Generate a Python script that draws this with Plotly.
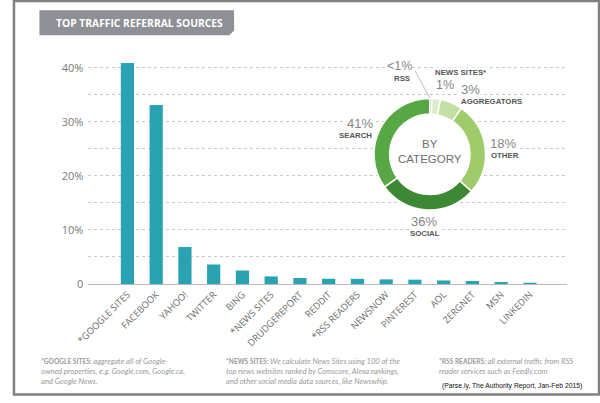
import plotly.graph_objects as go

# ---------------- data ----------------
sources = ["*GOOGLE SITES", "FACEBOOK", "YAHOO!", "TWITTER", "BING", "*NEWS SITES",
           "DRUDGEREPORT", "REDDIT", "*RSS READERS", "NEWSNOW", "PINTEREST", "AOL",
           "ZERGNET", "MSN", "LINKEDIN"]
share_pct = [40.9, 33.1, 6.85, 3.6, 2.5, 1.4, 1.1, 0.97, 0.95, 0.85, 0.8, 0.65, 0.55, 0.37, 0.25]

y_tick_vals = [0, 5, 10, 15, 20, 25, 30, 35, 40, 45]
y_tick_text = ["0", "", "10%", "", "20%", "", "30%", "", "40%", ""]

donut_categories = ["RSS", "NEWS SITES*", "AGGREGATORS", "OTHER", "SOCIAL", "SEARCH"]
donut_pct_labels = ["<1%", "1%", "3%", "18%", "36%", "41%"]
# arc shares as drawn in the reference graphic
donut_arc_share = [0.6, 2.5, 6.5, 27.0, 28.5, 35.0]
donut_colors = ["#2d2f2b", "#dcecd0", "#c2e0a3", "#9fcb6b", "#3d8834", "#57a844"]

W, H = 600, 403


def px(x):
    return x / W


def py(y):
    return 1 - y / H


fig = go.Figure()

fig.add_trace(go.Bar(
    x=sources, y=share_pct, marker=dict(color="#29a2b1", line=dict(width=0)),
    hoverinfo="skip", showlegend=False,
))

# donut
cx, cy, R = 426, 157, 57
fig.add_trace(go.Pie(
    values=donut_arc_share, labels=donut_categories, sort=False,
    direction="clockwise", rotation=0, hole=0.72,
    marker=dict(colors=donut_colors, line=dict(color="white", width=1.5)),
    textinfo="none", hoverinfo="skip", showlegend=False,
    domain=dict(x=[px(cx - R), px(cx + R)], y=[py(cy + R), py(cy - R)]),
))

fig.update_layout(
    width=W, height=H, margin=dict(l=0, r=0, t=0, b=0),
    paper_bgcolor="white", plot_bgcolor="white",
    bargap=0.54, font=dict(family="Open Sans", color="#777"),
    xaxis=dict(
        domain=[px(77), px(566)], type="category", range=[-1.36, 15.28],
        showgrid=False, showline=True, linecolor="#b8b8b8", linewidth=1.5,
        tickangle=-45, tickfont=dict(size=9.4, color="#6a6a6a", family="Open Sans"),
        ticks="", fixedrange=True,
    ),
    yaxis=dict(
        domain=[py(289), py(41.5)], range=[0, 45],
        tickvals=y_tick_vals, ticktext=y_tick_text,
        showgrid=True, gridcolor="#c9c9c9", gridwidth=1, griddash="dot",
        zeroline=False, showline=False, ticks="", ticklabelstandoff=4,
        tickfont=dict(size=11, color="#7a7a7a", family="Open Sans"),
        fixedrange=True,
    ),
)

shapes = []
# outer frame
shapes.append(dict(type="rect", xref="paper", yref="paper", x0=px(1), x1=px(599), y0=py(401.5), y1=py(1),
                   line=dict(color="#808080", width=2.5), layer="above"))
# title box with chipped corner
path = "M {} {} L {} {} L {} {} L {} {} L {} {} Z".format(
    px(27), py(10.5), px(226), py(10.5), px(226), py(31), px(221), py(36), px(27), py(36))
shapes.append(dict(type="path", xref="paper", yref="paper", path=path,
                   fillcolor="#8e9095", line=dict(width=0)))
# white hole for donut
r_in = 40
shapes.append(dict(type="circle", xref="paper", yref="paper",
                   x0=px(cx - r_in), x1=px(cx + r_in), y0=py(cy + r_in), y1=py(cy - r_in),
                   fillcolor="white", line=dict(width=0), layer="above"))
# RSS leader line
shapes.append(dict(type="line", xref="paper", yref="paper",
                   x0=px(411), y0=py(72), x1=px(426), y1=py(100),
                   line=dict(color="#bdbdbd", width=1)))
fig.update_layout(shapes=shapes)

ann = []


def add(text, x, y, size, color, xanchor="center", yanchor="middle", family="Open Sans", bg=None, align="center"):
    d = dict(text=text, x=px(x), y=py(y), xref="paper", yref="paper", showarrow=False,
             xanchor=xanchor, yanchor=yanchor, align=align,
             font=dict(size=size, color=color, family=family))
    if bg:
        d["bgcolor"] = bg
        d["borderpad"] = 0
    ann.append(d)


add("<b>TOP TRAFFIC REFERRAL SOURCES</b>", 42, 23.5, 10.3, "white", xanchor="left")

# donut center
add("BY", cx, 146.5, 11.5, "#6d6e71", family="Liberation Sans")
add("CATEGORY", cx, 162, 11.5, "#6d6e71", family="Liberation Sans")

pct_col = "#858585"
name_col = "#555555"
LF = "Liberation Sans"


def pct_label(i, x, y, xanchor="center", size=13):
    add(donut_pct_labels[i], x, y, size, pct_col, xanchor=xanchor, family=LF, bg="white")


def name_label(i, x, y, xanchor="center"):
    add("<b>" + donut_categories[i] + "</b>", x, y, 7.8, name_col, xanchor=xanchor, family=LF, bg="white")


# RSS
pct_label(0, 395, 67.5, size=12.5)
name_label(0, 397.5, 79.5)
# News sites
name_label(1, 430, 74, xanchor="left")
pct_label(1, 431, 86.5, xanchor="left", size=12.5)
# Aggregators
pct_label(2, 457, 91.5, xanchor="left")
name_label(2, 457, 103.5, xanchor="left")
# Other
pct_label(3, 487, 146, xanchor="left")
name_label(3, 488, 158, xanchor="left")
# Social
pct_label(4, 420, 225.5)
name_label(4, 421, 237.5)
# Search
pct_label(5, 369, 126, xanchor="right")
name_label(5, 368, 138, xanchor="right")

# footnotes
fn_bold = "<span style='font-size:6.6px'><b>{}</b></span>"
fn_col = "#9a9a9a"
add(fn_bold.format("*GOOGLE SITES:") + "<i> aggregate all of Google-<br>owned properties, e.g. Google.com, Google.ca,<br>and Google News.</i>",
    27, 360, 7.6, fn_col, xanchor="left", yanchor="top", family="Lato", align="left")
add(fn_bold.format("*NEWS SITES:") + "<i> We calculate News Sites using 100 of the<br>top news websites ranked by Comscore, Alexa rankings,<br>and other social media data sources, like Newswhip.</i>",
    216, 360, 7.6, fn_col, xanchor="left", yanchor="top", family="Lato", align="left")
add(fn_bold.format("*RSS READERS:") + "<i> all external traffic from RSS<br>reader services such as Feedly.com</i>",
    433, 360, 7.6, fn_col, xanchor="left", yanchor="top", family="Lato", align="left")
add("(Parse.ly, The Authority Report, Jan-Feb 2015)", 584, 392.5, 6.8, "#111111",
    xanchor="right", family="Liberation Sans")

fig.update_layout(annotations=ann)

fig.write_html("out.html", config={"displayModeBar": False, "staticPlot": True},
               post_script="document.body.style.margin='0';document.body.style.overflow='hidden';")
